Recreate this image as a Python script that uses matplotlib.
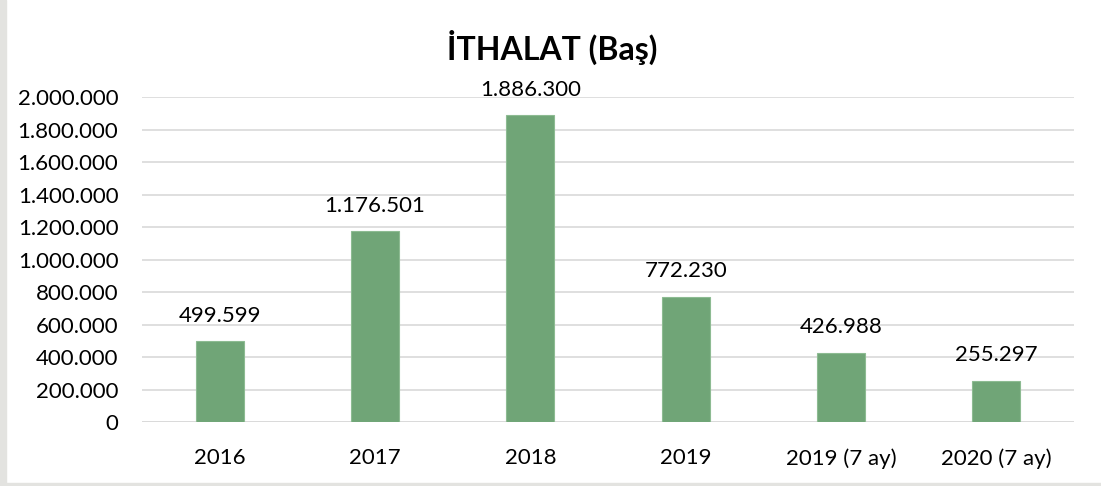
import numpy as np
import matplotlib.pyplot as plt
from matplotlib.ticker import FuncFormatter
from matplotlib.patches import Rectangle

categories = ["2016", "2017", "2018", "2019", "2019 (7 ay)", "2020 (7 ay)"]
values = [499599, 1176501, 1886300, 772230, 426988, 255297]
title = "İTHALAT (Baş)"


def tr_format(v, pos=None):
    return f"{int(round(v)):,}".replace(",", ".")


plt.rcParams['font.family'] = ['Lato', 'DejaVu Sans']

fig = plt.figure(figsize=(11.01, 4.86), dpi=100)
ax = fig.add_axes([142 / 1101, 1 - 422 / 486, (1074 - 142) / 1101, (422 - 97) / 486])

x = np.arange(len(categories))
ax.bar(x, values, width=0.31, color="#70A577", edgecolor="#8dbb92", linewidth=0.8, zorder=3)

for xi, v in zip(x, values):
    ax.annotate(tr_format(v), (xi, v), xytext=(0, 11), textcoords="offset points",
                ha="center", va="bottom", fontsize=16, color="#000000")

ax.set_xlim(-0.5, len(categories) - 0.5)
ax.set_ylim(0, 2000000)
ax.set_yticks(np.arange(0, 2000001, 200000))
ax.yaxis.set_major_formatter(FuncFormatter(tr_format))
ax.set_xticks(x)
ax.set_xticklabels(categories)
ax.tick_params(axis="both", length=0, labelsize=16, colors="#000000")
ax.tick_params(axis="x", pad=19)
ax.tick_params(axis="y", pad=17)
ax.grid(axis="y", color="#d9d9d9", linewidth=1.2, zorder=0)
for s in ax.spines.values():
    s.set_visible(False)
ax.axhline(0, color="#d9d9d9", linewidth=1.2, zorder=1)

fig.text(552 / 1101, 1 - 47 / 486, title, ha="center", va="center",
         fontsize=23, fontweight="bold", color="#000000")

# outer frame (left and bottom edges visible)
fig.add_artist(Rectangle((0, 0), 6 / 1101, 1, transform=fig.transFigure,
                         color="#e3e3e0", zorder=0))
fig.add_artist(Rectangle((0, 0), 1, 3 / 486, transform=fig.transFigure,
                         color="#e3e3e0", zorder=0))

fig.savefig("out.png", dpi=100)
